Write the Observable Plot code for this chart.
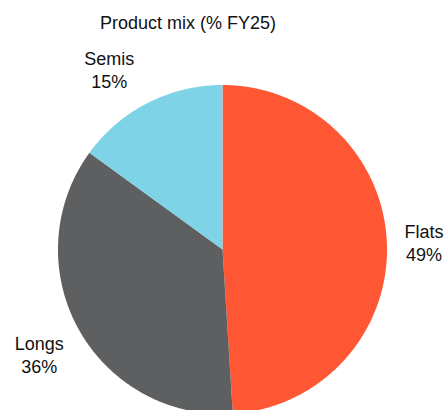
<!DOCTYPE html>
<html>
<head>
<meta charset="utf-8">
<script src="https://cdn.jsdelivr.net/npm/d3@7"></script>
<script src="https://cdn.jsdelivr.net/npm/@observablehq/plot@0.6"></script>
<style>
  html, body { margin: 0; padding: 0; background: #fff; overflow: hidden; }
  #wrap { width: 444px; height: 410px; position: relative; font-family: "Liberation Sans", Arial, sans-serif; }
  #title { box-sizing: border-box; width: 444px; height: 40px; padding-top: 13px; padding-right: 68px;
           text-align: center; font-size: 18px; line-height: 20px; color: #111; }
</style>
</head>
<body>
<div id="wrap">
  <div id="title">Product mix (% FY25)</div>
  <div id="chart"></div>
</div>
<script>
// ---- data ----
const categories = ["Flats", "Longs", "Semis"];
const shares = [49, 36, 15];
const colors = ["#FF5733", "#5E5F61", "#7ED3E6"];

// ---- layout ----
const W = 444, H = 370;
const R = 164.5;           // pixel radius
const cx = 222, cy = 209;  // pixel center inside the svg
const labelFactor = 1.25;
const labelNudge = { Flats: [-4, -1], Longs: [-3, 6], Semis: [-20, 3] }; // px

const slices = categories.map((name, i) => ({ name, value: shares[i] }));
const arcs = d3.pie().sort(null).value(d => d.value)(slices);

// polygon points for each slice (data units: radius = 1, y up)
const pts = [];
for (const a of arcs) {
  const name = a.data.name;
  pts.push({ name, x: 0, y: 0 });
  const n = Math.max(2, Math.ceil((a.endAngle - a.startAngle) / (Math.PI / 360)));
  for (let k = 0; k <= n; k++) {
    const t = a.startAngle + (a.endAngle - a.startAngle) * k / n;
    pts.push({ name, x: Math.sin(t), y: Math.cos(t) });
  }
  pts.push({ name, x: 0, y: 0 });
}

const labels = arcs.map(a => {
  const m = (a.startAngle + a.endAngle) / 2;
  const [nx, ny] = labelNudge[a.data.name];
  return {
    text: `${a.data.name}\n${a.data.value}%`,
    x: labelFactor * Math.sin(m) + nx / R,
    y: labelFactor * Math.cos(m) - ny / R
  };
});

const chart = Plot.plot({
  width: W,
  height: H,
  margin: 0,
  x: { domain: [-cx / R, (W - cx) / R], range: [0, W], axis: null },
  y: { domain: [-(H - cy) / R, cy / R], range: [H, 0], axis: null },
  color: { domain: categories, range: colors },
  style: { fontFamily: "'Liberation Sans', Arial, sans-serif", background: "#fff" },
  marks: [
    Plot.line(pts, { x: "x", y: "y", z: "name", fill: "name", stroke: "none", curve: "linear" }),
    Plot.text(labels, { x: "x", y: "y", text: "text", fontSize: 18, lineHeight: 1.28, lineAnchor: "middle", textAnchor: "middle", fill: "#111" })
  ]
});
document.getElementById("chart").appendChild(chart);
</script>
</body>
</html>
